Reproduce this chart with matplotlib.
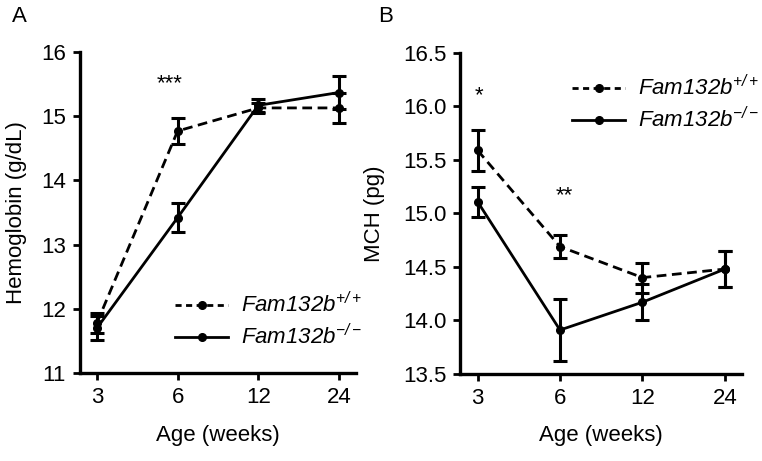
import matplotlib
matplotlib.use("Agg")
import matplotlib.pyplot as plt
from matplotlib.lines import Line2D

plt.rcParams["font.family"] = ["Liberation Sans", "DejaVu Sans"]
plt.rcParams["mathtext.fontset"] = "custom"
plt.rcParams["mathtext.it"] = "Liberation Sans:italic"
plt.rcParams["mathtext.rm"] = "Liberation Sans:italic"

ages = ["3", "6", "12", "24"]

# Panel A: hemoglobin (g/dL)
hb_wt = [11.78, 14.77, 15.13, 15.13]
hb_wt_err = [0.16, 0.20, 0.08, 0.24]
hb_ko = [11.70, 13.42, 15.17, 15.37]
hb_ko_err = [0.19, 0.23, 0.10, 0.26]

# Panel B: MCH (pg)
mch_wt = [15.59, 14.69, 14.40, 14.48]
mch_wt_err = [0.19, 0.11, 0.14, 0.17]
mch_ko = [15.11, 13.91, 14.17, 14.48]
mch_ko_err = [0.14, 0.29, 0.17, 0.17]

lbl_wt = r"Fam132b$^{+/+}$"
lbl_ko = r"Fam132b$^{-/-}$"

FS = 16
DASH = (0, (3.5, 2))


def draw(ax, wt, wt_err, ko, ko_err, ylim, yticks, yfmt, ylabel, lpad):
    x = list(range(len(ages)))
    kw = dict(color="black", lw=2, marker="o", ms=5.5, capsize=5,
              elinewidth=2.2, capthick=2.2)
    ax.errorbar(x, wt, yerr=wt_err, ls=DASH, **kw)
    ax.errorbar(x, ko, yerr=ko_err, ls="-", **kw)
    ax.set_xlim(-0.21, 3.21)
    ax.set_ylim(*ylim)
    ax.set_xticks(x)
    ax.set_xticklabels(ages)
    ax.set_yticks(yticks)
    ax.set_yticklabels([yfmt.format(t) for t in yticks])
    ax.tick_params(labelsize=FS, width=2, length=5, direction="out", pad=5)
    for s in ["top", "right"]:
        ax.spines[s].set_visible(False)
    for s in ["left", "bottom"]:
        ax.spines[s].set_linewidth(2.4)
    ax.set_xlabel("Age (weeks)", fontsize=FS, labelpad=12)
    ax.set_ylabel(ylabel, fontsize=FS, labelpad=lpad)


def add_legend(ax, anchor, spacing):
    handles = [
        Line2D([], [], color="black", lw=2, ls=(0, (2.2, 1.6)),
               marker="o", ms=5.5),
        Line2D([], [], color="black", lw=2, ls="-", marker="o", ms=5.5),
    ]
    leg = ax.legend(handles, [lbl_wt, lbl_ko], loc="center left",
                    bbox_to_anchor=anchor, bbox_transform=fig.transFigure,
                    frameon=False, borderpad=0, borderaxespad=0,
                    prop={"size": FS, "style": "italic"},
                    handlelength=2.4, handletextpad=0.55,
                    labelspacing=spacing)
    return leg


fig = plt.figure(figsize=(7.62, 4.61), dpi=100)
ax1 = fig.add_axes([0.105, 0.191, 0.362, 0.696])
ax2 = fig.add_axes([0.604, 0.189, 0.370, 0.696])

draw(ax1, hb_wt, hb_wt_err, hb_ko, hb_ko_err, (11, 16),
     [11, 12, 13, 14, 15, 16], "{:.0f}", "Hemoglobin (g/dL)", 10)
draw(ax2, mch_wt, mch_wt_err, mch_ko, mch_ko_err, (13.5, 16.5),
     [13.5, 14.0, 14.5, 15.0, 15.5, 16.0, 16.5], "{:.1f}", "MCH (pg)", 13)

ax1.text(0.9, 15.5, "***", ha="center", va="center", fontsize=FS)
ax2.text(0.02, 16.1, "*", ha="center", va="center", fontsize=FS)
ax2.text(1.05, 15.17, "**", ha="center", va="center", fontsize=FS)

add_legend(ax1, (175 / 762, 1 - 321 / 461), 0.3)
add_legend(ax2, (572 / 762, 1 - 104 / 461), 0.3)

fig.text(0.016, 0.965, "A", fontsize=FS, va="center")
fig.text(0.496, 0.965, "B", fontsize=FS, va="center")

fig.savefig("out.png", dpi=100)
